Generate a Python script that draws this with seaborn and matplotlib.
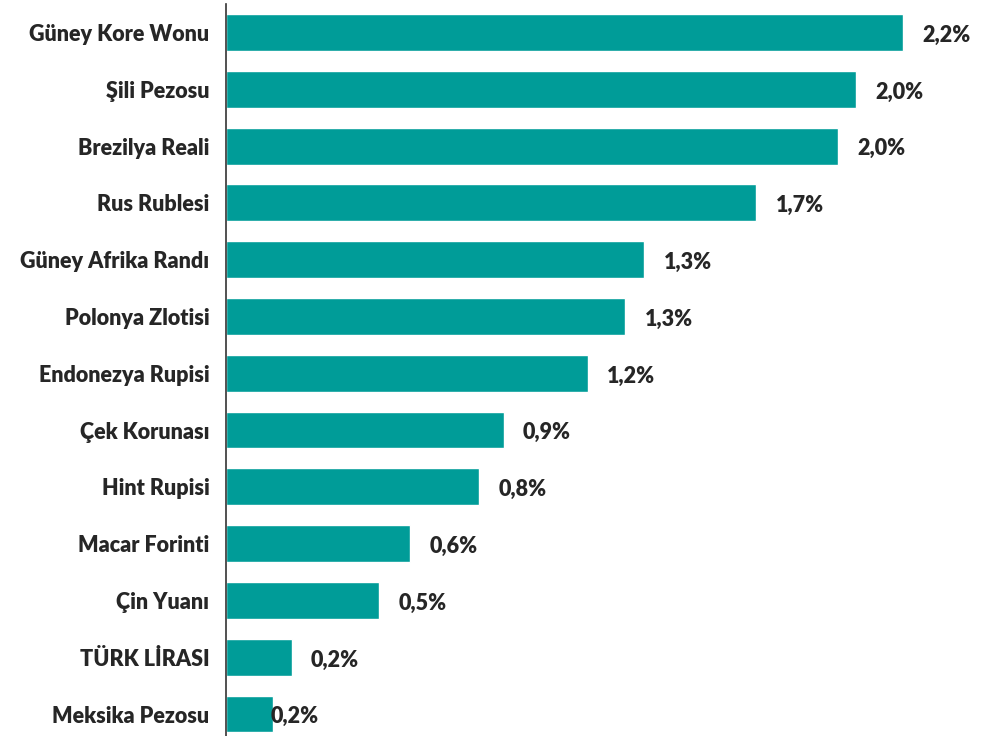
import matplotlib
matplotlib.use("Agg")
import matplotlib.pyplot as plt
import seaborn as sns

# currencies, top to bottom
categories = [
    "Güney Kore Wonu", "Şili Pezosu", "Brezilya Reali", "Rus Rublesi",
    "Güney Afrika Randı", "Polonya Zlotisi", "Endonezya Rupisi",
    "Çek Korunası", "Hint Rupisi", "Macar Forinti", "Çin Yuanı",
    "TÜRK LİRASI", "Meksika Pezosu",
]
values = [2.17, 2.02, 1.96, 1.70, 1.34, 1.28, 1.16, 0.89, 0.81, 0.59, 0.49, 0.21, 0.15]
value_labels = ["2,2%", "2,0%", "2,0%", "1,7%", "1,3%", "1,3%", "1,2%",
                "0,9%", "0,8%", "0,6%", "0,5%", "0,2%", "0,2%"]

BAR_COLOR = "#009C98"
TEXT_COLOR = "#262626"

sns.set_theme(style="white")
plt.rcParams["font.family"] = ["Lato", "DejaVu Sans"]

fig = plt.figure(figsize=(9.88, 7.36), dpi=100)
ax = fig.add_axes([226 / 988, -6.4 / 736, 762 / 988, (736 - 4.1 + 6.4) / 736])

sns.barplot(x=values, y=categories, color=BAR_COLOR, saturation=1,
            width=0.65, orient="h", ax=ax)

ax.set_xlim(0, 762 / 312)
ax.set_ylim(len(categories) - 0.5, -0.5)
ax.set_xlabel("")
ax.set_ylabel("")
ax.set_xticks([])

for side in ["top", "right", "bottom"]:
    ax.spines[side].set_visible(False)
ax.spines["left"].set_color("#333333")
ax.spines["left"].set_linewidth(1.2)

ax.tick_params(axis="y", length=0, pad=12)
for lbl in ax.get_yticklabels():
    lbl.set_fontsize(15.5)
    lbl.set_fontweight("heavy")
    lbl.set_color(TEXT_COLOR)

# value labels; the last one sits over the bar end as in the source
for i, (v, txt) in enumerate(zip(values, value_labels)):
    dx = 14 if i < len(values) - 1 else -1.5
    ax.annotate(txt, xy=(v, i), xytext=(dx, -2), textcoords="offset points",
                ha="left", va="center", fontsize=15.5, fontweight="heavy",
                color=TEXT_COLOR)

fig.savefig("out.png", dpi=100)
